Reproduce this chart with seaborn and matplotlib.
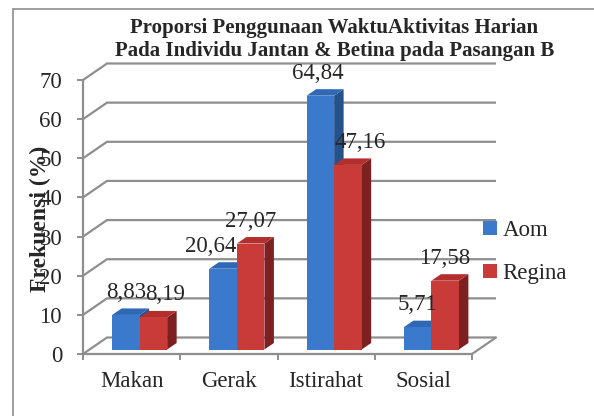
import numpy as np
import pandas as pd
import matplotlib.pyplot as plt
import seaborn as sns
from matplotlib.patches import Polygon
from matplotlib.lines import Line2D

# data
kategori = ['Makan', 'Gerak', 'Istirahat', 'Sosial']
aom = [8.83, 20.64, 64.84, 5.71]
regina = [8.19, 27.07, 47.16, 17.58]
label_aom = ['8,83', '20,64', '64,84', '5,71']
label_regina = ['8,19', '27,07', '47,16', '17,58']
y_ticks = [0, 10, 20, 30, 40, 50, 60, 70]
individu = ['Aom', 'Regina']

df = pd.DataFrame({
    'Aktivitas': kategori * 2,
    'Frekuensi': aom + regina,
    'Individu': ['Aom'] * len(aom) + ['Regina'] * len(regina),
})

sns.set_style('white')
plt.rcParams['font.family'] = ['Liberation Serif', 'DejaVu Serif']

W, H = 594, 416
fig = plt.figure(figsize=(W / 100, H / 100), dpi=100)
ax = fig.add_axes([83 / W, 62 / H, 389 / W, 274 / H])

palette = {'Aom': '#3a79cb', 'Regina': '#c93b38'}
top_col = {'Aom': '#2f68b5', 'Regina': '#b32f2d'}
side_col = {'Aom': '#26528c', 'Regina': '#7c2020'}
grid = '#8e8e8e'

sns.barplot(data=df, x='Aktivitas', y='Frekuensi', hue='Individu', hue_order=individu,
            palette=palette, width=0.566, saturation=1, errorbar=None,
            linewidth=0, ax=ax)
ax.set_xlim(-0.5, 3.5)
ax.set_ylim(0, 70)

# pixel -> data scale
px_x = 389 / 4
px_y = 274 / 70

# back wall + left wall gridlines (fake 3d)
bx, by = 24 / px_x, 16.5 / px_y
for v in y_ticks:
    ax.plot([-0.5, -0.5 + bx, 3.5 + bx], [v, v + by, v + by], color=grid,
            lw=1.6, clip_on=False, zorder=1, solid_capstyle='butt')
ax.plot([3.5, 3.5 + bx], [0, by], color=grid, lw=1.6, clip_on=False, zorder=1)

# bars: shift to mid-depth and add top / side faces
sx, sy = 8 / px_x, 4.5 / px_y
dx, dy = 9.5 / px_x, 6.5 / px_y
bars = list(ax.patches)[:8]
info = []
for i, p in enumerate(bars):
    info.append((p, individu[i // 4]))
info.sort(key=lambda t: t[0].get_x())

nudge = {'Aom': [0, -12, -3, 0], 'Regina': [12, 0, 12, 0]}
labels = {'Aom': label_aom, 'Regina': label_regina}
k = {'Aom': 0, 'Regina': 0}

for j, (p, who) in enumerate(info):
    x0 = p.get_x() + sx
    w = p.get_width()
    h = p.get_height()
    p.set_x(x0)
    p.set_y(sy)
    z = 3 + j
    p.set_zorder(z + 0.5)
    y1 = sy + h
    side = Polygon([(x0 + w, sy), (x0 + w + dx, sy + dy), (x0 + w + dx, y1 + dy), (x0 + w, y1)],
                   closed=True, fc=side_col[who], ec='none', zorder=z, clip_on=False)
    top = Polygon([(x0, y1), (x0 + w, y1), (x0 + w + dx, y1 + dy), (x0 + dx, y1 + dy)],
                  closed=True, fc=top_col[who], ec='none', zorder=z, clip_on=False)
    ax.add_patch(side)
    ax.add_patch(top)
    n = k[who]
    ax.text(x0 + w / 2 + nudge[who][n] / px_x, y1 + 17 / px_y, labels[who][n],
            ha='center', va='baseline', fontsize=16.5, zorder=20, clip_on=False)
    k[who] += 1

# axes styling
for s in ['top', 'right']:
    ax.spines[s].set_visible(False)
for s in ['left', 'bottom']:
    ax.spines[s].set_color(grid)
    ax.spines[s].set_linewidth(1.6)
ax.spines['left'].set_bounds(0, 70)
ax.set_yticks(y_ticks)
ax.set_xticks(range(4))
ax.set_xticks([-0.5, 0.5, 1.5, 2.5, 3.5], minor=True)
ax.tick_params(axis='y', left=True, direction='out', length=4.5, width=1.4,
               color=grid, pad=10.5, labelsize=16.5)
ax.tick_params(axis='x', which='major', bottom=True, length=0, pad=12, labelsize=16.5)
ax.tick_params(axis='x', which='minor', bottom=True, direction='out', length=4.5,
               width=1.4, color=grid)
ax.set_xlabel('')
ax.set_ylabel('')
ax.patch.set_alpha(0)

fig.text(40 / W, 1 - 219 / H, 'Frekuensi (%)', rotation=90, ha='center', va='center',
         fontsize=17, fontweight='bold')

# legend
handles = ax.get_legend().legend_handles
ax.legend(handles, individu, loc='center left', bbox_to_anchor=(483 / W, 1 - 252 / H),
          bbox_transform=fig.transFigure, frameon=False, fontsize=16.5,
          handlelength=0.6, handleheight=0.6, handletextpad=0.25,
          labelspacing=0.95, borderpad=0, borderaxespad=0)

# title
fig.text(334.5 / W, 1 - 33 / H, 'Proporsi Penggunaan WaktuAktivitas Harian',
         ha='center', va='baseline', fontsize=15, fontweight='bold')
fig.text(334.5 / W, 1 - 56 / H, 'Pada Individu Jantan & Betina pada Pasangan B',
         ha='center', va='baseline', fontsize=15, fontweight='bold')

# outer frame (only left and top edges visible)
fig.add_artist(Line2D([13 / W, 13 / W], [0, 1 - 9 / H], color=grid, lw=1.2))
fig.add_artist(Line2D([13 / W, 1], [1 - 9 / H, 1 - 9 / H], color=grid, lw=1.2))

fig.savefig('out.png', dpi=100)
